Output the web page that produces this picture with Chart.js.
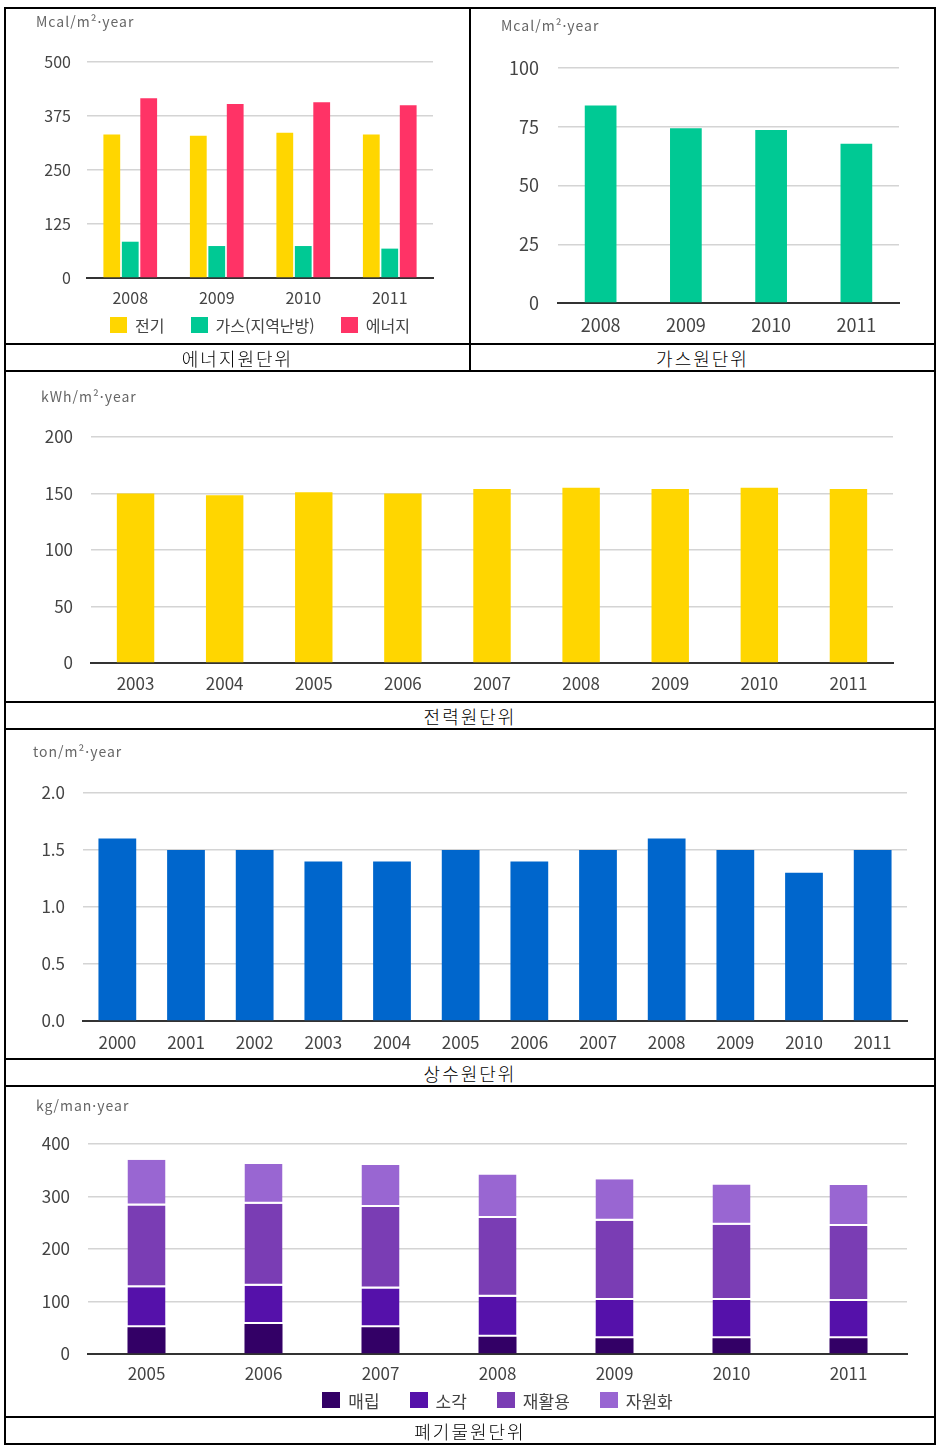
<!DOCTYPE html>
<html lang="ko">
<head>
<meta charset="utf-8">
<script src="https://cdn.jsdelivr.net/npm/chart.js@4.4.1/dist/chart.umd.min.js"></script>
<style>
  body { margin: 0; background: #fff; font-family: "Noto Sans CJK KR", "Noto Sans", sans-serif; }
  #page { position: relative; width: 945px; height: 1455px; overflow: hidden; }
  .line { position: absolute; background: #000; }
  canvas { position: absolute; }
  .unit { position: absolute; font-size: 14px; color: #666; letter-spacing: 1px; line-height: 14px; white-space: nowrap; }
  .caption { position: absolute; text-align: center; font-size: 18px; letter-spacing: 2px; line-height: 26px; color: #000; font-weight: 300; }
  .legend { position: absolute; display: flex; justify-content: center; align-items: center; height: 20px; font-size: 16px; color: #444; }
  .legend .item { display: flex; align-items: center; margin: 0 13px; white-space: nowrap; }
  .legend .box { display: inline-block; width: 17px; height: 16px; margin-right: 8px; }
  #wasteLegend { font-size: 17px; }
  #wasteLegend .item { margin: 0 15px; }
  #wasteLegend .box { width: 18px; height: 16px; }
</style>
</head>
<body>
<div id="page">
  <!-- table borders -->
  <div class="line" style="left:4px;top:7px;width:932px;height:2px"></div>
  <div class="line" style="left:4px;top:343px;width:932px;height:2px"></div>
  <div class="line" style="left:4px;top:370px;width:932px;height:2px"></div>
  <div class="line" style="left:4px;top:701px;width:932px;height:2px"></div>
  <div class="line" style="left:4px;top:728px;width:932px;height:2px"></div>
  <div class="line" style="left:4px;top:1058px;width:932px;height:2px"></div>
  <div class="line" style="left:4px;top:1085px;width:932px;height:2px"></div>
  <div class="line" style="left:4px;top:1416px;width:932px;height:2px"></div>
  <div class="line" style="left:4px;top:1443px;width:932px;height:2px"></div>
  <div class="line" style="left:4px;top:7px;width:2px;height:1438px"></div>
  <div class="line" style="left:934px;top:7px;width:2px;height:1438px"></div>
  <div class="line" style="left:469px;top:7px;width:2px;height:365px"></div>

  <!-- energy -->
  <canvas id="energyChart" width="464" height="334" style="left:5px;top:10px"></canvas>
  <div class="unit" style="left:36px;top:14px">Mcal/m²·year</div>
  <div class="legend" id="energyLegend" style="left:87px;top:315px;width:346px"></div>
  <div class="caption" style="left:6px;top:345px;width:463px">에너지원단위</div>

  <!-- gas -->
  <canvas id="gasChart" width="462" height="334" style="left:472px;top:10px"></canvas>
  <div class="unit" style="left:501px;top:18px">Mcal/m²·year</div>
  <div class="caption" style="left:471px;top:345px;width:463px">가스원단위</div>

  <!-- power -->
  <canvas id="powerChart" width="929" height="328" style="left:5px;top:373px"></canvas>
  <div class="unit" style="left:41px;top:389px">kWh/m²·year</div>
  <div class="caption" style="left:6px;top:703px;width:928px">전력원단위</div>

  <!-- water -->
  <canvas id="waterChart" width="929" height="327" style="left:5px;top:731px"></canvas>
  <div class="unit" style="left:33px;top:744px">ton/m²·year</div>
  <div class="caption" style="left:6px;top:1060px;width:928px">상수원단위</div>

  <!-- waste -->
  <canvas id="wasteChart" width="929" height="328" style="left:5px;top:1088px"></canvas>
  <div class="unit" style="left:36px;top:1098px">kg/man·year</div>
  <div class="legend" id="wasteLegend" style="left:88px;top:1390px;width:819px"></div>
  <div class="caption" style="left:6px;top:1418px;width:928px">폐기물원단위</div>
</div>

<script>
// 에너지원단위 (Mcal/m²·year)
const energyYears = ["2008", "2009", "2010", "2011"];
const energyLabels = ["전기", "가스(지역난방)", "에너지"];
const energyElec = [332, 329, 336, 332];
const energyGas = [84, 74, 74, 68];
const energyTotal = [416, 403, 407, 400];
const energyTicks = [0, 125, 250, 375, 500];

// 가스원단위 (Mcal/m²·year)
const gasYears = ["2008", "2009", "2010", "2011"];
const gasValues = [84, 74.4, 73.6, 67.8];
const gasTicks = [0, 25, 50, 75, 100];

// 전력원단위 (kWh/m²·year)
const powerYears = ["2003", "2004", "2005", "2006", "2007", "2008", "2009", "2010", "2011"];
const powerValues = [150, 148.5, 151, 150, 154, 155, 154, 155, 154];
const powerTicks = [0, 50, 100, 150, 200];

// 상수원단위 (ton/m²·year)
const waterYears = ["2000", "2001", "2002", "2003", "2004", "2005", "2006", "2007", "2008", "2009", "2010", "2011"];
const waterValues = [1.6, 1.5, 1.5, 1.4, 1.4, 1.5, 1.4, 1.5, 1.6, 1.5, 1.3, 1.5];
const waterTicks = [0, 0.5, 1.0, 1.5, 2.0];

// 폐기물원단위 (kg/man·year)
const wasteYears = ["2005", "2006", "2007", "2008", "2009", "2010", "2011"];
const wasteLabels = ["매립", "소각", "재활용", "자원화"];
const wasteLandfill = [51, 57, 51, 33, 30, 30, 30];
const wasteIncineration = [76, 73, 74, 76, 73, 73, 71];
const wasteRecycle = [156, 156, 155, 150, 151, 143, 143];
const wasteResource = [87, 76, 80, 83, 79, 77, 78];
const wasteTicks = [0, 100, 200, 300, 400];

const FONT = "'Noto Sans CJK KR', 'Noto Sans', sans-serif";
const YELLOW = "#FFD600";
const GREEN = "#00C994";
const RED = "#FF3366";
const BLUE = "#0066CC";
const PURPLES = ["#330066", "#5511AA", "#7A3DB4", "#9966D2"];

// shared options, plot area is fixed by padding + axis sizes
function baseOptions(o) {
  return {
    responsive: false,
    animation: false,
    devicePixelRatio: 1,
    layout: { padding: { left: 0, top: o.top, right: o.right, bottom: 0 } },
    plugins: { legend: { display: false }, tooltip: { enabled: false } },
    scales: {
      x: {
        stacked: !!o.stacked,
        grid: { display: false, drawTicks: false },
        border: { display: true, color: "#333", width: 2 },
        ticks: { color: "#444", padding: o.xPad, font: { family: FONT, size: o.font } },
        afterFit: (s) => { s.height = o.xHeight; },
      },
      y: {
        stacked: !!o.stacked,
        min: o.ticks[0],
        max: o.ticks[o.ticks.length - 1],
        afterBuildTicks: (s) => { s.ticks = o.ticks.map((v) => ({ value: v })); },
        grid: { color: "#d4d4d4", lineWidth: 1.5, drawTicks: false },
        border: { display: false },
        ticks: {
          color: "#444",
          padding: o.yPad,
          font: { family: FONT, size: o.font },
          callback: (v) => (o.decimals ? Number(v).toFixed(o.decimals) : v),
        },
        afterFit: (s) => { s.width = o.yWidth; },
      },
    },
  };
}

function buildLegend(id, labels, colors) {
  const el = document.getElementById(id);
  labels.forEach((label, i) => {
    const item = document.createElement("div");
    item.className = "item";
    const box = document.createElement("span");
    box.className = "box";
    box.style.background = colors[i];
    item.appendChild(box);
    item.appendChild(document.createTextNode(label));
    el.appendChild(item);
  });
}

new Chart(document.getElementById("energyChart"), {
  type: "bar",
  data: {
    labels: energyYears,
    datasets: [
      { label: energyLabels[0], data: energyElec, backgroundColor: YELLOW },
      { label: energyLabels[1], data: energyGas, backgroundColor: GREEN },
      { label: energyLabels[2], data: energyTotal, backgroundColor: RED },
    ].map((d) => ({ ...d, categoryPercentage: 0.64, barPercentage: 0.91 })),
  },
  options: baseOptions({ top: 52, right: 36, yWidth: 82, xHeight: 66, yPad: 16, xPad: 10, font: 16, ticks: energyTicks }),
});
buildLegend("energyLegend", energyLabels, [YELLOW, GREEN, RED]);

new Chart(document.getElementById("gasChart"), {
  type: "bar",
  data: {
    labels: gasYears,
    datasets: [{ data: gasValues, backgroundColor: GREEN, categoryPercentage: 1, barPercentage: 0.372 }],
  },
  options: baseOptions({ top: 58, right: 35, yWidth: 86, xHeight: 41, yPad: 19, xPad: 11, font: 18, ticks: gasTicks }),
});

new Chart(document.getElementById("powerChart"), {
  type: "bar",
  data: {
    labels: powerYears,
    datasets: [{ data: powerValues, backgroundColor: YELLOW, categoryPercentage: 1, barPercentage: 0.42 }],
  },
  options: baseOptions({ top: 64, right: 41, yWidth: 86, xHeight: 38, yPad: 18, xPad: 10, font: 17, ticks: powerTicks }),
});

new Chart(document.getElementById("waterChart"), {
  type: "bar",
  data: {
    labels: waterYears,
    datasets: [{ data: waterValues, backgroundColor: BLUE, categoryPercentage: 1, barPercentage: 0.55 }],
  },
  options: baseOptions({ top: 62, right: 27, yWidth: 78, xHeight: 37, yPad: 18, xPad: 11, font: 17, ticks: waterTicks, decimals: 1 }),
});

const wasteSeries = [wasteLandfill, wasteIncineration, wasteRecycle, wasteResource];
new Chart(document.getElementById("wasteChart"), {
  type: "bar",
  data: {
    labels: wasteYears,
    datasets: wasteSeries.map((data, i) => ({
      label: wasteLabels[i],
      data: data,
      backgroundColor: PURPLES[i],
      borderColor: "#ffffff",
      borderWidth: i === 0 ? 0 : { top: 0, left: 0, right: 0, bottom: 2 },
      borderSkipped: false,
      categoryPercentage: 1,
      barPercentage: 0.325,
    })),
  },
  options: baseOptions({ top: 56, right: 27, yWidth: 83, xHeight: 62, yPad: 18, xPad: 9, font: 17, ticks: wasteTicks, stacked: true }),
});
buildLegend("wasteLegend", wasteLabels, PURPLES);
</script>
</body>
</html>
